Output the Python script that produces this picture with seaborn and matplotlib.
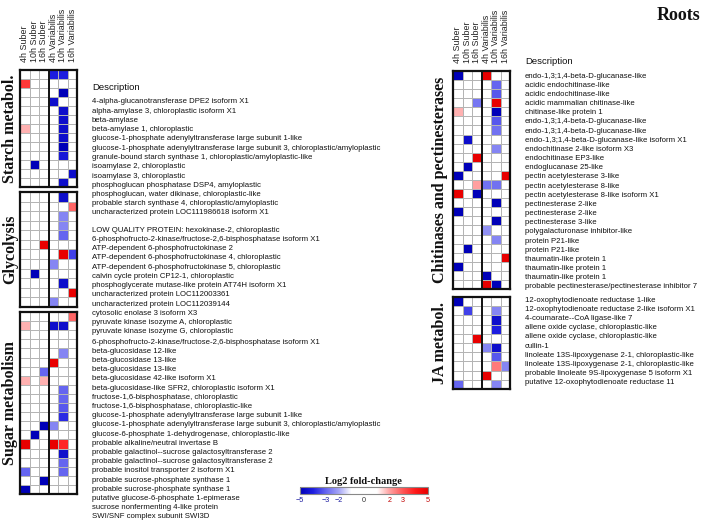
import numpy as np
import pandas as pd
import matplotlib
matplotlib.use("Agg")
import matplotlib.pyplot as plt
import seaborn as sns
from matplotlib.colors import LinearSegmentedColormap, Normalize
from matplotlib.cm import ScalarMappable

sns.set_theme(style="white")
plt.rcParams['font.family'] = ['Liberation Sans', 'DejaVu Sans']

conditions = ["4h Suber", "10h Suber", "16h Suber", "4h Variabilis", "10h Variabilis", "16h Variabilis"]

starch_genes = [
    "4-alpha-glucanotransferase DPE2 isoform X1",
    "alpha-amylase 3, chloroplastic isoform X1",
    "beta-amylase",
    "beta-amylase 1, chloroplastic",
    "glucose-1-phosphate adenylyltransferase large subunit 1-like",
    "glucose-1-phosphate adenylyltransferase large subunit 3, chloroplastic/amyloplastic",
    "granule-bound starch synthase 1, chloroplastic/amyloplastic-like",
    "isoamylase 2, chloroplastic",
    "isoamylase 3, chloroplastic",
    "phosphoglucan phosphatase DSP4, amyloplastic",
    "phosphoglucan, water dikinase, chloroplastic-like",
    "probable starch synthase 4, chloroplastic/amyloplastic",
    "uncharacterized protein LOC111986618 isoform X1",
]
starch_vals = [
    [0, 0, 0, -4, -4, 0],
    [3.5, 0, 0, 0, 0, 0],
    [0, 0, 0, 0, -5, 0],
    [0, 0, 0, -4.5, 0, 0],
    [0, 0, 0, 0, -4.5, 0],
    [0, 0, 0, 0, -4.5, 0],
    [1.8, 0, 0, 0, -4.5, 0],
    [0, 0, 0, 0, -4.5, 0],
    [0, 0, 0, 0, -5.5, 0],
    [0, 0, 0, 0, -4.2, 0],
    [0, -5, 0, 0, 0, 0],
    [0, 0, 0, 0, 0, -4.5],
    [0, 0, 0, 0, -4.5, 0],
]

glyco_genes = [
    "LOW QUALITY PROTEIN: hexokinase-2, chloroplastic",
    "6-phosphofructo-2-kinase/fructose-2,6-bisphosphatase isoform X1",
    "ATP-dependent 6-phosphofructokinase 2",
    "ATP-dependent 6-phosphofructokinase 4, chloroplastic",
    "ATP-dependent 6-phosphofructokinase 5, chloroplastic",
    "calvin cycle protein CP12-1, chloroplastic",
    "phosphoglycerate mutase-like protein AT74H isoform X1",
    "uncharacterized protein LOC112003361",
    "uncharacterized protein LOC112039144",
    "cytosolic enolase 3 isoform X3",
    "pyruvate kinase isozyme A, chloroplastic",
    "pyruvate kinase isozyme G, chloroplastic",
]
glyco_vals = [
    [0, 0, 0, 0, -4.5, 0],
    [0, 0, 0, 0, 0, 2.8],
    [0, 0, 0, 0, -2.5, 0],
    [0, 0, 0, 0, -2.5, 0],
    [0, 0, 0, 0, -3, 0],
    [0, 0, 5, 0, 0, 0],
    [0, 0, 0, 0, 5, -3.5],
    [0, 0, 0, -2.5, 0, 0],
    [0, -5.5, 0, 0, 0, 0],
    [0, 0, 0, 0, -4.5, 0],
    [0, 0, 0, 0, 0, 5],
    [0, 0, 0, -2.5, 0, 0],
]

sugar_genes = [
    "6-phosphofructo-2-kinase/fructose-2,6-bisphosphatase isoform X1",
    "beta-glucosidase 12-like",
    "beta-glucosidase 13-like",
    "beta-glucosidase 13-like",
    "beta-glucosidase 42-like isoform X1",
    "beta-glucosidase-like SFR2, chloroplastic isoform X1",
    "fructose-1,6-bisphosphatase, chloroplastic",
    "fructose-1,6-bisphosphatase, chloroplastic-like",
    "glucose-1-phosphate adenylyltransferase large subunit 1-like",
    "glucose-1-phosphate adenylyltransferase large subunit 3, chloroplastic/amyloplastic",
    "glucose-6-phosphate 1-dehydrogenase, chloroplastic-like",
    "probable alkaline/neutral invertase B",
    "probable galactinol--sucrose galactosyltransferase 2",
    "probable galactinol--sucrose galactosyltransferase 2",
    "probable inositol transporter 2 isoform X1",
    "probable sucrose-phosphate synthase 1",
    "probable sucrose-phosphate synthase 1",
    "putative glucose-6-phosphate 1-epimerase",
    "sucrose nonfermenting 4-like protein",
    "SWI/SNF complex subunit SWI3D",
]
sugar_vals = [
    [0, 0, 0, 0, 0, 2.8],
    [1.8, 0, 0, -4.5, -4.5, 0],
    [0, 0, 0, 0, 0, 0],
    [0, 0, 0, 0, 0, 0],
    [0, 0, 0, 0, -2.5, 0],
    [0, 0, 0, 5, 0, 0],
    [0, 0, -3, 0, 0, 0],
    [1.8, 0, 1.8, 0, 0, 0],
    [0, 0, 0, 0, -3, 0],
    [0, 0, 0, 0, -3, 0],
    [0, 0, 0, 0, -3.2, 0],
    [0, 0, 0, 0, -3.8, 0],
    [0, 0, -5.5, -2.5, 0, 0],
    [0, -5, 0, 0, 0, 0],
    [5, 0, 0, 5, 3.8, 0],
    [0, 0, 0, 0, -4.5, 0],
    [0, 0, 0, 0, -3, 0],
    [-3, 0, 0, 0, -3, 0],
    [0, 0, -5.5, 0, 0, 0],
    [-5.5, 0, 0, 0, 0, 0],
]

chit_genes = [
    "endo-1,3;1,4-beta-D-glucanase-like",
    "acidic endochitinase-like",
    "acidic endochitinase-like",
    "acidic mammalian chitinase-like",
    "chitinase-like protein 1",
    "endo-1,3;1,4-beta-D-glucanase-like",
    "endo-1,3;1,4-beta-D-glucanase-like",
    "endo-1,3;1,4-beta-D-glucanase-like isoform X1",
    "endochitinase 2-like isoform X3",
    "endochitinase EP3-like",
    "endoglucanase 25-like",
    "pectin acetylesterase 3-like",
    "pectin acetylesterase 8-like",
    "pectin acetylesterase 8-like isoform X1",
    "pectinesterase 2-like",
    "pectinesterase 2-like",
    "pectinesterase 3-like",
    "polygalacturonase inhibitor-like",
    "protein P21-like",
    "protein P21-like",
    "thaumatin-like protein 1",
    "thaumatin-like protein 1",
    "thaumatin-like protein 1",
    "probable pectinesterase/pectinesterase inhibitor 7",
]
chit_vals = [
    [-5.5, 0, 0, 5, 0, 0],
    [0, 0, 0, 0, -3, 0],
    [0, 0, 0, 0, -3.2, 0],
    [0, 0, -2.7, 0, 5, 0],
    [1.8, 0, 0, 0, -5.5, 0],
    [0, 0, 0, 0, -3.2, 0],
    [0, 0, 0, 0, -2.8, 0],
    [0, -4.5, 0, 0, 0, 0],
    [0, 0, 0, 0, -2.5, 0],
    [0, 0, 5, 0, 0, 0],
    [0, -5.5, 0, 0, 0, 0],
    [-5.5, 0, 0, 0, 0, 5],
    [0, 0, 2, -2.8, -2.8, 0],
    [5, 0, -5.5, 0, 0, 0],
    [0, 0, 0, 0, -5, 0],
    [-5.5, 0, 0, 0, 0, 0],
    [0, 0, 0, 0, -5, 0],
    [0, 0, 0, -2.3, 0, 0],
    [0, 0, 0, 0, -2.5, 0],
    [0, -5.5, 0, 0, 0, 0],
    [0, 0, 0, 0, 0, 5],
    [-5.5, 0, 0, 0, 0, 0],
    [0, 0, 0, -5.5, 0, 0],
    [0, 0, 0, 5, -5, 0],
]

ja_genes = [
    "12-oxophytodienoate reductase 1-like",
    "12-oxophytodienoate reductase 2-like isoform X1",
    "4-coumarate--CoA ligase-like 7",
    "allene oxide cyclase, chloroplastic-like",
    "allene oxide cyclase, chloroplastic-like",
    "cullin-1",
    "linoleate 13S-lipoxygenase 2-1, chloroplastic-like",
    "linoleate 13S-lipoxygenase 2-1, chloroplastic-like",
    "probable linoleate 9S-lipoxygenase 5 isoform X1",
    "putative 12-oxophytodienoate reductase 11",
]
ja_vals = [
    [-5.5, 0, 0, 0, 0, 0],
    [0, -3.5, 0, 0, -2.5, 0],
    [0, 0, 0, 0, -4.5, 0],
    [0, 0, 0, 0, -4, 0],
    [0, 0, 5, 0, 0, 0],
    [0, 0, 0, -2.5, -4.5, 0],
    [0, 0, 0, 0, -3.2, 0],
    [0, 0, 0, 0, 2.5, -2.5],
    [0, 0, 0, 5, 0, 0],
    [-3, 0, 0, 0, -2.5, 0],
]

group_names = ["Starch metabol.", "Glycolysis", "Sugar metabolism",
               "Chitinases and pectinesterases", "JA metabol."]
cbar_ticks = [-5, -3, -2, 0, 2, 3, 5]

# ---------- layout (pixels) ----------
W, H = 708, 524
fig = plt.figure(figsize=(W / 100, H / 100), dpi=100)
fig.patch.set_facecolor("white")

def fx(px):
    return px / W

def fy(py):
    return 1 - py / H

cmap = LinearSegmentedColormap.from_list("lfc", [
    (0.00, "#0000b8"),
    (0.10, "#1e1ee0"),
    (0.20, "#6565f0"),
    (0.30, "#a4a4f6"),
    (0.40, "#ffffff"),
    (0.60, "#ffffff"),
    (0.70, "#ffa0a0"),
    (0.80, "#ff5858"),
    (0.90, "#ff1a1a"),
    (1.00, "#e80000"),
])

blocks = [
    (starch_genes, starch_vals, 20, 70, 187, 10, 92, 102, 9.25, True),
    (glyco_genes, glyco_vals, 20, 192, 307, 10, 92, 230, 9.27, False),
    (sugar_genes, sugar_vals, 20, 312, 494, 10, 92, 342, 9.2, False),
    (chit_genes, chit_vals, 453, 71, 289, 440, 525, 76, 9.17, True),
    (ja_genes, ja_vals, 453, 297, 389, 440, 525, 300, 9.2, False),
]
cell_w = 9.5

for (genes, vals, x0, y0, y1, lx, dx, dy0, dstep, top), gname in zip(blocks, group_names):
    df = pd.DataFrame(vals, index=genes, columns=conditions)
    ax = fig.add_axes([fx(x0), fy(y1), (6 * cell_w) / W, (y1 - y0) / H])
    sns.heatmap(df.reset_index(drop=True), ax=ax, cmap=cmap, vmin=-5, vmax=5,
                cbar=False, linewidths=0.6, linecolor="#b4b4b4",
                xticklabels=conditions if top else False, yticklabels=False)
    for s in ax.spines.values():
        s.set_visible(True)
        s.set_color("#111111")
        s.set_linewidth(1.6)
    ax.axvline(3, color="#111111", lw=1.4)
    if top:
        ax.xaxis.set_ticks_position("top")
        ax.tick_params(axis="x", length=0, pad=6)
        for t in ax.get_xticklabels():
            t.set_rotation(90)
            t.set_fontsize(6.4)
            t.set_color("#222222")
            t.set_va("bottom")
    fig.text(fx(lx), fy((y0 + y1) / 2), gname, rotation=90, ha="center", va="center",
             family="Liberation Serif", fontweight="bold", fontsize=11.5, color="#111111")
    if top:
        fig.text(fx(dx), fy(dy0 - (15 if dx < 300 else 14)), "Description",
                 ha="left", va="center", fontsize=6.8, color="#111111")
    for i, g in enumerate(genes):
        fig.text(fx(dx), fy(dy0 + i * dstep), g, ha="left", va="center",
                 fontsize=5.6, color="#111111")

fig.text(fx(700), fy(16), "Roots", ha="right", va="center", family="Liberation Serif",
         fontweight="bold", fontsize=13, color="#111111")

cax = fig.add_axes([fx(300), fy(494), 128 / W, 7 / H])
sm = ScalarMappable(norm=Normalize(-5, 5), cmap=cmap)
cb = fig.colorbar(sm, cax=cax, orientation="horizontal", ticks=cbar_ticks)
cb.outline.set_edgecolor("#888888")
cb.outline.set_linewidth(0.8)
cax.tick_params(axis="x", length=0, pad=2, labelsize=5.2)
tick_cols = ["#1a1aa0", "#1a1aa0", "#1a1aa0", "#333333", "#c00000", "#c00000", "#c00000"]
for t, c in zip(cax.get_xticklabels(), tick_cols):
    t.set_color(c)
fig.text(fx(363), fy(481), "Log2 fold-change", ha="center", va="center",
         family="Liberation Serif", fontweight="bold", fontsize=7.5, color="#111111")

fig.savefig("out.png", dpi=100, facecolor="white")
